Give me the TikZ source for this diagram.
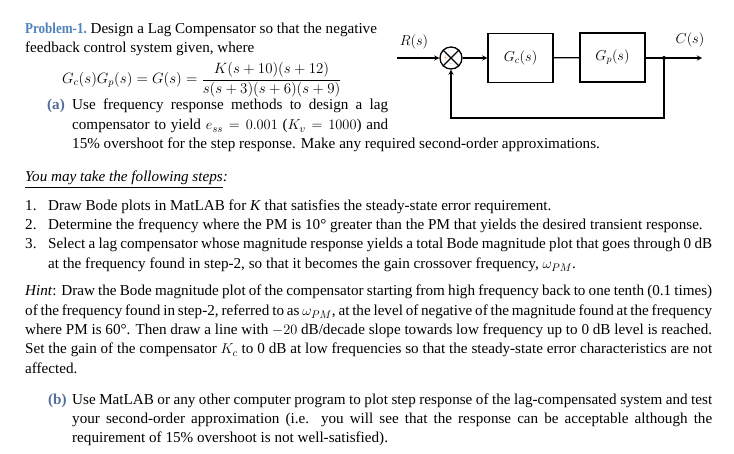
\documentclass[tikz,border=0pt]{standalone}
\usepackage{amsmath}
\usepackage{fontspec}
\setmainfont{Liberation Serif}
\usetikzlibrary{positioning}
\definecolor{probblue}{RGB}{79,129,189}
\definecolor{partblue}{RGB}{84,110,155}
\definecolor{signorange}{RGB}{228,108,10}
\tikzset{
  txt/.style={anchor=base west, inner sep=0pt, font=\fontsize{15.2}{18}\selectfont},
  block/.style={draw, line width=1.3bp, minimum width=65bp, minimum height=49bp,
    font=\fontsize{14.4}{16}\selectfont},
  lbl/.style={font=\fontsize{14.4}{15}\selectfont},
  wire/.style={line width=1.3bp}
}
\newcommand\jline[2]{\makebox[#1bp][s]{#2}}

\begin{document}
\begin{tikzpicture}[x=1bp,y=-1bp,>=stealth]
  \useasboundingbox (0,0) rectangle (734,454);
  % block diagram
  \coordinate (rin) at (397,58);
  \node[circle, draw, wire, minimum size=22bp, inner sep=0pt] (sum) at (451,58) {};
  \draw[wire] (sum.north west) -- (sum.south east) (sum.north east) -- (sum.south west);
  \node[text=signorange, font=\tiny, inner sep=0pt] (plus) at ([xshift=-5bp]sum.center) {$+$};
  \node[text=signorange, font=\tiny, inner sep=0pt] (minus) at ([yshift=-6bp]sum.center) {$-$};
  \node[block] (gc) at (520.5,58) {$G_c(s)$};
  \node[block] (gp) at (612.5,57.5) {$G_p(s)$};
  \coordinate (branch) at (664,58);
  \coordinate (cout) at (702,58);
  \coordinate (fb) at (664,118);
  \node[lbl] (rlabel) at (414,42) {$R(s)$};
  \node[lbl] (clabel) at (690,40) {$C(s)$};
  \draw[wire,->] (rin) -- (sum);
  \draw[wire,->] (sum) -- (gc);
  \draw[wire] (gc) -- (gp);
  \draw[wire,->] (gp.east |- branch) -- (cout);
  \fill (branch) circle (2bp);
  \draw[wire,->] (branch) -- (fb) -| (sum.south);
  % problem text
  \node[txt] (prob) at (25,34) {\scalebox{0.86}[1]{\bfseries\color{probblue}Problem-1.} Design a Lag Compensator so that the negative};
  \node[txt] (feed) at (25,53) {feedback control system given, where};
  \node[anchor=west, inner sep=0pt, font=\fontsize{14.4}{17}\selectfont] (eqn) at (62,80)
    {\scalebox{1.04}{$G_c(s)G_p(s)=G(s)=\dfrac{K(s+10)(s+12)}{s(s+3)(s+6)(s+9)}$}};
  \node[txt] (parta) at (47,110) {\textbf{\color{partblue}(a)}};
  \node[txt] (parta1) at (72,110) {\jline{316}{Use frequency response methods to design a lag}};
  \node[txt] (parta2) at (72,130) {\jline{316}{compensator to yield $e_{ss}=0.001$ ($K_v=1000$) and}};
  \node[txt] (parta3) at (72,149) {15\% overshoot for the step response. Make any required second-order approximations.};
  % steps
  \node[txt] (steps) at (25,182) {\textit{\underline{You may take the following steps}:}};
  \node[txt] (n1) at (25,211) {1.};
  \node[txt] (s1) at (48,211) {Draw Bode plots in MatLAB for \textit{K} that satisfies the steady-state error requirement.};
  \node[txt] (n2) at (25,230) {2.};
  \node[txt] (s2) at (48,230) {Determine the frequency where the PM is 10° greater than the PM that yields the desired transient response.};
  \node[txt] (n3) at (25,249) {3.};
  \node[txt] (s3) at (48,249) {\jline{664}{Select a lag compensator whose magnitude response yields a total Bode magnitude plot that goes through 0 dB}};
  \node[txt] (s3b) at (48,269) {at the frequency found in step-2, so that it becomes the gain crossover frequency, $\omega_{PM}$.};
  % hint
  \node[txt] (h1) at (25,296) {\jline{687}{\textit{Hint}: Draw the Bode magnitude plot of the compensator starting from high frequency back to one tenth (0.1 times)}};
  \node[txt] (h2) at (25,316) {\jline{687}{of the frequency found in step-2, referred to as $\omega_{PM}$, at the level of negative of the magnitude found at the frequency}};
  \node[txt] (h3) at (25,335) {\jline{687}{where PM is 60°. Then draw a line with $-20$ dB/decade slope towards low frequency up to 0 dB level is reached.}};
  \node[txt] (h4) at (25,354) {\jline{687}{Set the gain of the compensator $K_c$ to 0 dB at low frequencies so that the steady-state error characteristics are not}};
  \node[txt] (h5) at (25,373) {affected.};
  % part b
  \node[txt] (partb) at (48,404) {\textbf{\color{partblue}(b)}};
  \node[txt] (partb1) at (72,404) {\jline{640}{Use MatLAB or any other computer program to plot step response of the lag-compensated system and test}};
  \node[txt] (partb2) at (72,423) {\jline{640}{your second-order approximation (i.e. you will see that the response can be acceptable although the}};
  \node[txt] (partb3) at (72,442) {requirement of 15\% overshoot is not well-satisfied).};
\end{tikzpicture}
\end{document}
